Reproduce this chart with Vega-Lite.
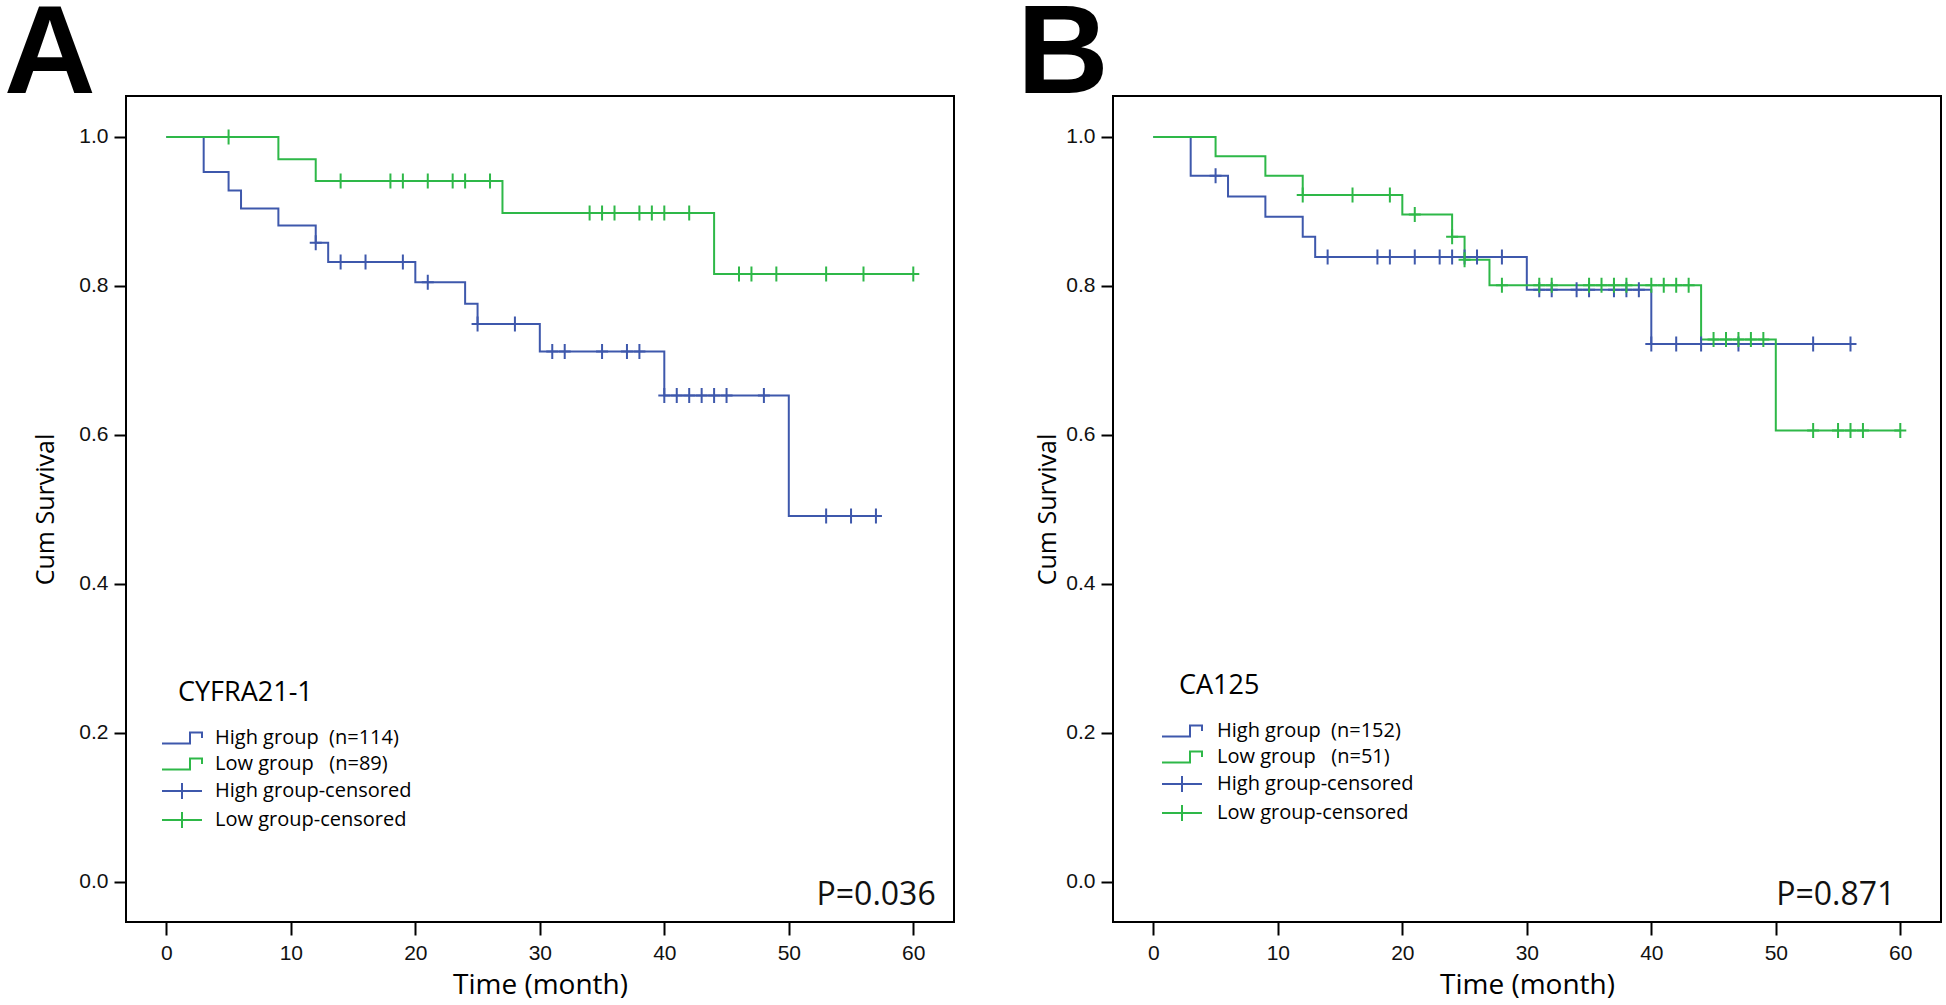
{
  "$schema": "https://vega.github.io/schema/vega-lite/v6.json",
  "background": "white",
  "padding": {"left": 3, "top": -10, "right": 0, "bottom": 0},
  "bounds": "flush",
  "spacing": 159,
  "config": {
    "view": {"stroke": "black", "strokeWidth": 2},
    "axis": {
      "domain": false, "grid": false,
      "tickColor": "black", "tickWidth": 2,
      "labelFont": "Liberation Sans", "labelFontSize": 21, "labelColor": "#111",
      "titleFont": "Open Sans", "titleFontWeight": "normal", "titleColor": "black"
    },
    "axisX": {"tickSize": 13, "labelPadding": 7, "titleFontSize": 28, "titlePadding": 8},
    "axisY": {"tickSize": 12, "labelPadding": 6, "titleFontSize": 25},
    "title": {"font": "Liberation Sans", "fontSize": 127, "fontWeight": "bold", "color": "black", "anchor": "start", "frame": "group", "baseline": "alphabetic", "offset": -24},
    "legend": {
      "orient": "none", "padding": 0,
      "titleFont": "Open Sans", "titleFontSize": 27, "titleFontWeight": "normal", "titleColor": "black", "titlePadding": 20,
      "labelFont": "Open Sans", "labelFontSize": 20, "labelColor": "black", "labelLimit": 400,
      "symbolSize": 400, "symbolStrokeWidth": 2, "rowPadding": 5
    }
  },
  "datasets": {
    "km": [
      {"p": "A", "k": "curve", "g": "High group\u00a0\u00a0(n=114)", "t": 0, "s": 1},
      {"p": "A", "k": "curve", "g": "High group\u00a0\u00a0(n=114)", "t": 3, "s": 0.953},
      {"p": "A", "k": "curve", "g": "High group\u00a0\u00a0(n=114)", "t": 5, "s": 0.928},
      {"p": "A", "k": "curve", "g": "High group\u00a0\u00a0(n=114)", "t": 6, "s": 0.904},
      {"p": "A", "k": "curve", "g": "High group\u00a0\u00a0(n=114)", "t": 9, "s": 0.881},
      {"p": "A", "k": "curve", "g": "High group\u00a0\u00a0(n=114)", "t": 12, "s": 0.858},
      {"p": "A", "k": "curve", "g": "High group\u00a0\u00a0(n=114)", "t": 13, "s": 0.832},
      {"p": "A", "k": "curve", "g": "High group\u00a0\u00a0(n=114)", "t": 20, "s": 0.805},
      {"p": "A", "k": "curve", "g": "High group\u00a0\u00a0(n=114)", "t": 24, "s": 0.776},
      {"p": "A", "k": "curve", "g": "High group\u00a0\u00a0(n=114)", "t": 25, "s": 0.749},
      {"p": "A", "k": "curve", "g": "High group\u00a0\u00a0(n=114)", "t": 30, "s": 0.712},
      {"p": "A", "k": "curve", "g": "High group\u00a0\u00a0(n=114)", "t": 40, "s": 0.653},
      {"p": "A", "k": "curve", "g": "High group\u00a0\u00a0(n=114)", "t": 50, "s": 0.491},
      {"p": "A", "k": "curve", "g": "High group\u00a0\u00a0(n=114)", "t": 57, "s": 0.491},
      {"p": "A", "k": "curve", "g": "Low group\u00a0\u00a0\u00a0(n=89)", "t": 0, "s": 1},
      {"p": "A", "k": "curve", "g": "Low group\u00a0\u00a0\u00a0(n=89)", "t": 9, "s": 0.970},
      {"p": "A", "k": "curve", "g": "Low group\u00a0\u00a0\u00a0(n=89)", "t": 12, "s": 0.941},
      {"p": "A", "k": "curve", "g": "Low group\u00a0\u00a0\u00a0(n=89)", "t": 27, "s": 0.898},
      {"p": "A", "k": "curve", "g": "Low group\u00a0\u00a0\u00a0(n=89)", "t": 44, "s": 0.816},
      {"p": "A", "k": "curve", "g": "Low group\u00a0\u00a0\u00a0(n=89)", "t": 60, "s": 0.816},
      {"p": "A", "k": "censor", "g": "High group-censored", "t": 12, "s": 0.858},
      {"p": "A", "k": "censor", "g": "High group-censored", "t": 14, "s": 0.832},
      {"p": "A", "k": "censor", "g": "High group-censored", "t": 16, "s": 0.832},
      {"p": "A", "k": "censor", "g": "High group-censored", "t": 19, "s": 0.832},
      {"p": "A", "k": "censor", "g": "High group-censored", "t": 21, "s": 0.805},
      {"p": "A", "k": "censor", "g": "High group-censored", "t": 25, "s": 0.749},
      {"p": "A", "k": "censor", "g": "High group-censored", "t": 28, "s": 0.749},
      {"p": "A", "k": "censor", "g": "High group-censored", "t": 31, "s": 0.712},
      {"p": "A", "k": "censor", "g": "High group-censored", "t": 32, "s": 0.712},
      {"p": "A", "k": "censor", "g": "High group-censored", "t": 35, "s": 0.712},
      {"p": "A", "k": "censor", "g": "High group-censored", "t": 37, "s": 0.712},
      {"p": "A", "k": "censor", "g": "High group-censored", "t": 38, "s": 0.712},
      {"p": "A", "k": "censor", "g": "High group-censored", "t": 40, "s": 0.653},
      {"p": "A", "k": "censor", "g": "High group-censored", "t": 41, "s": 0.653},
      {"p": "A", "k": "censor", "g": "High group-censored", "t": 42, "s": 0.653},
      {"p": "A", "k": "censor", "g": "High group-censored", "t": 43, "s": 0.653},
      {"p": "A", "k": "censor", "g": "High group-censored", "t": 44, "s": 0.653},
      {"p": "A", "k": "censor", "g": "High group-censored", "t": 45, "s": 0.653},
      {"p": "A", "k": "censor", "g": "High group-censored", "t": 48, "s": 0.653},
      {"p": "A", "k": "censor", "g": "High group-censored", "t": 53, "s": 0.491},
      {"p": "A", "k": "censor", "g": "High group-censored", "t": 55, "s": 0.491},
      {"p": "A", "k": "censor", "g": "High group-censored", "t": 57, "s": 0.491},
      {"p": "A", "k": "censor", "g": "Low group-censored", "t": 5, "s": 1},
      {"p": "A", "k": "censor", "g": "Low group-censored", "t": 14, "s": 0.941},
      {"p": "A", "k": "censor", "g": "Low group-censored", "t": 18, "s": 0.941},
      {"p": "A", "k": "censor", "g": "Low group-censored", "t": 19, "s": 0.941},
      {"p": "A", "k": "censor", "g": "Low group-censored", "t": 21, "s": 0.941},
      {"p": "A", "k": "censor", "g": "Low group-censored", "t": 23, "s": 0.941},
      {"p": "A", "k": "censor", "g": "Low group-censored", "t": 24, "s": 0.941},
      {"p": "A", "k": "censor", "g": "Low group-censored", "t": 26, "s": 0.941},
      {"p": "A", "k": "censor", "g": "Low group-censored", "t": 34, "s": 0.898},
      {"p": "A", "k": "censor", "g": "Low group-censored", "t": 35, "s": 0.898},
      {"p": "A", "k": "censor", "g": "Low group-censored", "t": 36, "s": 0.898},
      {"p": "A", "k": "censor", "g": "Low group-censored", "t": 38, "s": 0.898},
      {"p": "A", "k": "censor", "g": "Low group-censored", "t": 39, "s": 0.898},
      {"p": "A", "k": "censor", "g": "Low group-censored", "t": 40, "s": 0.898},
      {"p": "A", "k": "censor", "g": "Low group-censored", "t": 42, "s": 0.898},
      {"p": "A", "k": "censor", "g": "Low group-censored", "t": 46, "s": 0.816},
      {"p": "A", "k": "censor", "g": "Low group-censored", "t": 47, "s": 0.816},
      {"p": "A", "k": "censor", "g": "Low group-censored", "t": 49, "s": 0.816},
      {"p": "A", "k": "censor", "g": "Low group-censored", "t": 53, "s": 0.816},
      {"p": "A", "k": "censor", "g": "Low group-censored", "t": 56, "s": 0.816},
      {"p": "A", "k": "censor", "g": "Low group-censored", "t": 60, "s": 0.816},
      {"p": "A", "k": "ptext", "label": "P=0.036", "t": 61.8, "s": -0.031},
      {"p": "B", "k": "curve", "g": "High group\u00a0\u00a0(n=152)", "t": 0, "s": 1},
      {"p": "B", "k": "curve", "g": "High group\u00a0\u00a0(n=152)", "t": 3, "s": 0.948},
      {"p": "B", "k": "curve", "g": "High group\u00a0\u00a0(n=152)", "t": 6, "s": 0.920},
      {"p": "B", "k": "curve", "g": "High group\u00a0\u00a0(n=152)", "t": 9, "s": 0.893},
      {"p": "B", "k": "curve", "g": "High group\u00a0\u00a0(n=152)", "t": 12, "s": 0.866},
      {"p": "B", "k": "curve", "g": "High group\u00a0\u00a0(n=152)", "t": 13, "s": 0.839},
      {"p": "B", "k": "curve", "g": "High group\u00a0\u00a0(n=152)", "t": 30, "s": 0.795},
      {"p": "B", "k": "curve", "g": "High group\u00a0\u00a0(n=152)", "t": 40, "s": 0.722},
      {"p": "B", "k": "curve", "g": "High group\u00a0\u00a0(n=152)", "t": 56, "s": 0.722},
      {"p": "B", "k": "curve", "g": "Low group\u00a0\u00a0\u00a0(n=51)", "t": 0, "s": 1},
      {"p": "B", "k": "curve", "g": "Low group\u00a0\u00a0\u00a0(n=51)", "t": 5, "s": 0.974},
      {"p": "B", "k": "curve", "g": "Low group\u00a0\u00a0\u00a0(n=51)", "t": 9, "s": 0.948},
      {"p": "B", "k": "curve", "g": "Low group\u00a0\u00a0\u00a0(n=51)", "t": 12, "s": 0.922},
      {"p": "B", "k": "curve", "g": "Low group\u00a0\u00a0\u00a0(n=51)", "t": 20, "s": 0.896},
      {"p": "B", "k": "curve", "g": "Low group\u00a0\u00a0\u00a0(n=51)", "t": 24, "s": 0.866},
      {"p": "B", "k": "curve", "g": "Low group\u00a0\u00a0\u00a0(n=51)", "t": 25, "s": 0.835},
      {"p": "B", "k": "curve", "g": "Low group\u00a0\u00a0\u00a0(n=51)", "t": 27, "s": 0.801},
      {"p": "B", "k": "curve", "g": "Low group\u00a0\u00a0\u00a0(n=51)", "t": 44, "s": 0.728},
      {"p": "B", "k": "curve", "g": "Low group\u00a0\u00a0\u00a0(n=51)", "t": 50, "s": 0.606},
      {"p": "B", "k": "curve", "g": "Low group\u00a0\u00a0\u00a0(n=51)", "t": 60, "s": 0.606},
      {"p": "B", "k": "censor", "g": "High group-censored", "t": 5, "s": 0.948},
      {"p": "B", "k": "censor", "g": "High group-censored", "t": 14, "s": 0.839},
      {"p": "B", "k": "censor", "g": "High group-censored", "t": 18, "s": 0.839},
      {"p": "B", "k": "censor", "g": "High group-censored", "t": 19, "s": 0.839},
      {"p": "B", "k": "censor", "g": "High group-censored", "t": 21, "s": 0.839},
      {"p": "B", "k": "censor", "g": "High group-censored", "t": 23, "s": 0.839},
      {"p": "B", "k": "censor", "g": "High group-censored", "t": 24, "s": 0.839},
      {"p": "B", "k": "censor", "g": "High group-censored", "t": 25, "s": 0.839},
      {"p": "B", "k": "censor", "g": "High group-censored", "t": 26, "s": 0.839},
      {"p": "B", "k": "censor", "g": "High group-censored", "t": 28, "s": 0.839},
      {"p": "B", "k": "censor", "g": "High group-censored", "t": 31, "s": 0.795},
      {"p": "B", "k": "censor", "g": "High group-censored", "t": 32, "s": 0.795},
      {"p": "B", "k": "censor", "g": "High group-censored", "t": 34, "s": 0.795},
      {"p": "B", "k": "censor", "g": "High group-censored", "t": 35, "s": 0.795},
      {"p": "B", "k": "censor", "g": "High group-censored", "t": 37, "s": 0.795},
      {"p": "B", "k": "censor", "g": "High group-censored", "t": 38, "s": 0.795},
      {"p": "B", "k": "censor", "g": "High group-censored", "t": 39, "s": 0.795},
      {"p": "B", "k": "censor", "g": "High group-censored", "t": 40, "s": 0.722},
      {"p": "B", "k": "censor", "g": "High group-censored", "t": 42, "s": 0.722},
      {"p": "B", "k": "censor", "g": "High group-censored", "t": 44, "s": 0.722},
      {"p": "B", "k": "censor", "g": "High group-censored", "t": 47, "s": 0.722},
      {"p": "B", "k": "censor", "g": "High group-censored", "t": 53, "s": 0.722},
      {"p": "B", "k": "censor", "g": "High group-censored", "t": 56, "s": 0.722},
      {"p": "B", "k": "censor", "g": "Low group-censored", "t": 12, "s": 0.922},
      {"p": "B", "k": "censor", "g": "Low group-censored", "t": 16, "s": 0.922},
      {"p": "B", "k": "censor", "g": "Low group-censored", "t": 19, "s": 0.922},
      {"p": "B", "k": "censor", "g": "Low group-censored", "t": 21, "s": 0.896},
      {"p": "B", "k": "censor", "g": "Low group-censored", "t": 24, "s": 0.866},
      {"p": "B", "k": "censor", "g": "Low group-censored", "t": 25, "s": 0.835},
      {"p": "B", "k": "censor", "g": "Low group-censored", "t": 28, "s": 0.801},
      {"p": "B", "k": "censor", "g": "Low group-censored", "t": 31, "s": 0.801},
      {"p": "B", "k": "censor", "g": "Low group-censored", "t": 32, "s": 0.801},
      {"p": "B", "k": "censor", "g": "Low group-censored", "t": 35, "s": 0.801},
      {"p": "B", "k": "censor", "g": "Low group-censored", "t": 36, "s": 0.801},
      {"p": "B", "k": "censor", "g": "Low group-censored", "t": 37, "s": 0.801},
      {"p": "B", "k": "censor", "g": "Low group-censored", "t": 38, "s": 0.801},
      {"p": "B", "k": "censor", "g": "Low group-censored", "t": 40, "s": 0.801},
      {"p": "B", "k": "censor", "g": "Low group-censored", "t": 41, "s": 0.801},
      {"p": "B", "k": "censor", "g": "Low group-censored", "t": 42, "s": 0.801},
      {"p": "B", "k": "censor", "g": "Low group-censored", "t": 43, "s": 0.801},
      {"p": "B", "k": "censor", "g": "Low group-censored", "t": 45, "s": 0.728},
      {"p": "B", "k": "censor", "g": "Low group-censored", "t": 46, "s": 0.728},
      {"p": "B", "k": "censor", "g": "Low group-censored", "t": 47, "s": 0.728},
      {"p": "B", "k": "censor", "g": "Low group-censored", "t": 48, "s": 0.728},
      {"p": "B", "k": "censor", "g": "Low group-censored", "t": 49, "s": 0.728},
      {"p": "B", "k": "censor", "g": "Low group-censored", "t": 53, "s": 0.606},
      {"p": "B", "k": "censor", "g": "Low group-censored", "t": 55, "s": 0.606},
      {"p": "B", "k": "censor", "g": "Low group-censored", "t": 56, "s": 0.606},
      {"p": "B", "k": "censor", "g": "Low group-censored", "t": 57, "s": 0.606},
      {"p": "B", "k": "censor", "g": "Low group-censored", "t": 60, "s": 0.606},
      {"p": "B", "k": "ptext", "label": "P=0.871", "t": 59.6, "s": -0.031}
    ]
  },
  "resolve": {"scale": {"color": "independent"}, "legend": {"color": "independent"}},
  "hconcat": [
    {
      "width": 828, "height": 826,
      "title": {"text": "A", "dx": -122},
      "data": {"name": "km"},
      "transform": [{"filter": "datum.p == 'A'"}],
      "layer": [
        {
          "transform": [{"filter": "datum.k == 'curve'"}],
          "mark": {"type": "line", "interpolate": "step-after", "strokeWidth": 2},
          "encoding": {
            "x": {"field": "t", "type": "quantitative", "scale": {"domain": [-3.24, 63.27], "nice": false, "zero": false}, "axis": {"values": [0, 10, 20, 30, 40, 50, 60], "title": "Time (month)"}},
            "y": {"field": "s", "type": "quantitative", "scale": {"domain": [-0.054, 1.055], "nice": false, "zero": false}, "axis": {"values": [0, 0.2, 0.4, 0.6, 0.8, 1.0], "format": ".1f", "title": "Cum Survival", "titlePadding": 20}},
            "color": {
              "field": "g", "type": "nominal",
              "scale": {"domain": ["High group\u00a0\u00a0(n=114)", "Low group\u00a0\u00a0\u00a0(n=89)", "High group-censored", "Low group-censored"], "range": ["#3E58AC", "#2EB848", "#3E58AC", "#2EB848"]},
              "legend": {
                "title": "CYFRA21-1", "legendX": 45, "legendY": 584, "labelOffset": 22,
                "encode": {
                  "title": {"update": {"dx": {"value": 7}}},
                  "symbols": {"update": {"shape": {"signal": "indexof(datum.value, 'censored') >= 0 ? 'M-2,0H2M0,-0.8V0.8' : 'M-2,0.55H0.8V-0.55H2V0'"}, "fill": {"value": "transparent"}, "strokeWidth": {"value": 2}}}
                }
              }
            }
          }
        },
        {
          "transform": [{"filter": "datum.k == 'censor'"}],
          "mark": {"type": "point", "shape": "M-0.8,0H0.8M0,-1V1", "filled": false, "strokeWidth": 2, "size": 225, "opacity": 1},
          "encoding": {
            "x": {"field": "t", "type": "quantitative"},
            "y": {"field": "s", "type": "quantitative"},
            "color": {"field": "g", "type": "nominal"}
          }
        },
        {
          "transform": [{"filter": "datum.k == 'ptext'"}],
          "mark": {"type": "text", "align": "right", "baseline": "alphabetic", "font": "Open Sans", "fontSize": 32, "color": "#111"},
          "encoding": {
            "x": {"field": "t", "type": "quantitative"},
            "y": {"field": "s", "type": "quantitative"},
            "text": {"field": "label"}
          }
        }
      ]
    },
    {
      "width": 828, "height": 826,
      "title": {"text": "B", "dx": -96},
      "data": {"name": "km"},
      "transform": [{"filter": "datum.p == 'B'"}],
      "layer": [
        {
          "transform": [{"filter": "datum.k == 'curve'"}],
          "mark": {"type": "line", "interpolate": "step-after", "strokeWidth": 2},
          "encoding": {
            "x": {"field": "t", "type": "quantitative", "scale": {"domain": [-3.24, 63.27], "nice": false, "zero": false}, "axis": {"values": [0, 10, 20, 30, 40, 50, 60], "title": "Time (month)"}},
            "y": {"field": "s", "type": "quantitative", "scale": {"domain": [-0.054, 1.055], "nice": false, "zero": false}, "axis": {"values": [0, 0.2, 0.4, 0.6, 0.8, 1.0], "format": ".1f", "title": "Cum Survival", "titlePadding": 5}},
            "color": {
              "field": "g", "type": "nominal",
              "scale": {"domain": ["High group\u00a0\u00a0(n=152)", "Low group\u00a0\u00a0\u00a0(n=51)", "High group-censored", "Low group-censored"], "range": ["#3E58AC", "#2EB848", "#3E58AC", "#2EB848"]},
              "legend": {
                "title": "CA125", "legendX": 58, "legendY": 577, "labelOffset": 24,
                "encode": {
                  "title": {"update": {"dx": {"value": 8}}},
                  "symbols": {"update": {"shape": {"signal": "indexof(datum.value, 'censored') >= 0 ? 'M-2,0H2M0,-0.8V0.8' : 'M-2,0.55H0.8V-0.55H2V0'"}, "fill": {"value": "transparent"}, "strokeWidth": {"value": 2}}}
                }
              }
            }
          }
        },
        {
          "transform": [{"filter": "datum.k == 'censor'"}],
          "mark": {"type": "point", "shape": "M-0.8,0H0.8M0,-1V1", "filled": false, "strokeWidth": 2, "size": 225, "opacity": 1},
          "encoding": {
            "x": {"field": "t", "type": "quantitative"},
            "y": {"field": "s", "type": "quantitative"},
            "color": {"field": "g", "type": "nominal"}
          }
        },
        {
          "transform": [{"filter": "datum.k == 'ptext'"}],
          "mark": {"type": "text", "align": "right", "baseline": "alphabetic", "font": "Open Sans", "fontSize": 32, "color": "#111"},
          "encoding": {
            "x": {"field": "t", "type": "quantitative"},
            "y": {"field": "s", "type": "quantitative"},
            "text": {"field": "label"}
          }
        }
      ]
    }
  ]
}
